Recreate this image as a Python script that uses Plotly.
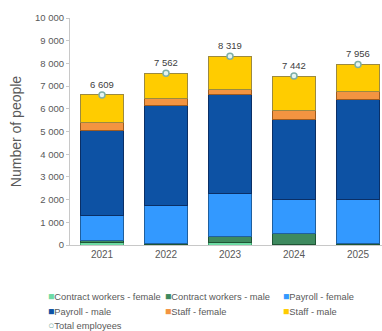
import plotly.graph_objects as go

years = ["2021", "2022", "2023", "2024", "2025"]
series_names = ["Contract workers - female", "Contract workers - male", "Payroll - female",
                "Payroll - male", "Staff - female", "Staff - male"]
contract_female = [130, 10, 100, 20, 10]
contract_male = [90, 40, 282, 465, 70]
payroll_female = [1060, 1670, 1898, 1500, 1933]
payroll_male = [3770, 4417, 4372, 3535, 4377]
staff_female = [340, 308, 218, 396, 363]
staff_male = [1219, 1117, 1449, 1526, 1203]
total_employees = [6609, 7562, 8319, 7442, 7956]
y_ticks = list(range(0, 10001, 1000))

series_values = [contract_female, contract_male, payroll_female, payroll_male, staff_female, staff_male]
fill_colors = ["#6EDBA5", "#3E8A5F", "#3399FF", "#0D52A4", "#F39441", "#FFCC00"]
line_colors = ["#3FA872", "#1F5535", "#1F5F9F", "#0A2F66", "#9C5A20", "#9C8A40"]

fig = go.Figure()
for name, vals, fc, lc in zip(series_names, series_values, fill_colors, line_colors):
    fig.add_trace(go.Bar(x=years, y=vals, name=name, showlegend=False,
                         marker=dict(color=fc, line=dict(color=lc, width=1))))

fig.add_trace(go.Scatter(
    x=years, y=total_employees, name="Total employees", mode="markers+text", showlegend=False,
    text=[f"{v:,}".replace(",", " ") for v in total_employees], textposition="top center",
    textfont=dict(family="Liberation Sans, Arial", size=9.5, color="#404040"),
    marker=dict(size=6, color="#E6F4F1", line=dict(color="#7DAFA6", width=1.5)),
    cliponaxis=False))

# legend drawn as text annotations
legend_items = list(zip(series_names, fill_colors, ["■"] * 6)) + [("Total employees", "#7DAFA6", "○")]
col_x = [46, 163, 281]
row_y = [296, 311, 324.5]
W, H = 382, 331
L, R, T, B = 70, 0, 18, 86
pw, ph = W - L - R, H - T - B
annotations = []
for i, (name, col, glyph) in enumerate(legend_items):
    r, c = divmod(i, 3)
    px, py = col_x[c], row_y[r]
    annotations.append(dict(
        xref="paper", yref="paper", x=(px - L) / pw, y=1 - (py - T) / ph,
        xanchor="left", yanchor="middle", showarrow=False,
        text=f"<span style='color:{col};font-size:10.5px'>{glyph}</span>{name}",
        font=dict(family="Liberation Sans, Arial", size=9.3, color="#595959")))

fig.update_layout(
    width=W, height=H, margin=dict(l=L, r=R, t=T, b=B, pad=0),
    barmode="stack", bargap=0.33,
    plot_bgcolor="white", paper_bgcolor="white",
    separators=". ",
    font=dict(family="Liberation Sans, Arial", color="#595959"),
    annotations=annotations,
    xaxis=dict(type="category", range=[-0.5, 4.375], showline=True, linecolor="#C8C8C8",
               ticks="", tickfont=dict(size=10, color="#595959"), showgrid=False, fixedrange=True),
    yaxis=dict(range=[0, 10000], tickvals=y_ticks, tickformat=",d", showline=True,
               linecolor="#C8C8C8", ticks="outside", ticklen=3, tickcolor="#C8C8C8",
               showgrid=False, zeroline=False, tickfont=dict(size=9.5, color="#595959"),
               title=dict(text="Number of people", font=dict(size=14, color="#595959"), standoff=10)),
)
fig.write_html("out.html")
